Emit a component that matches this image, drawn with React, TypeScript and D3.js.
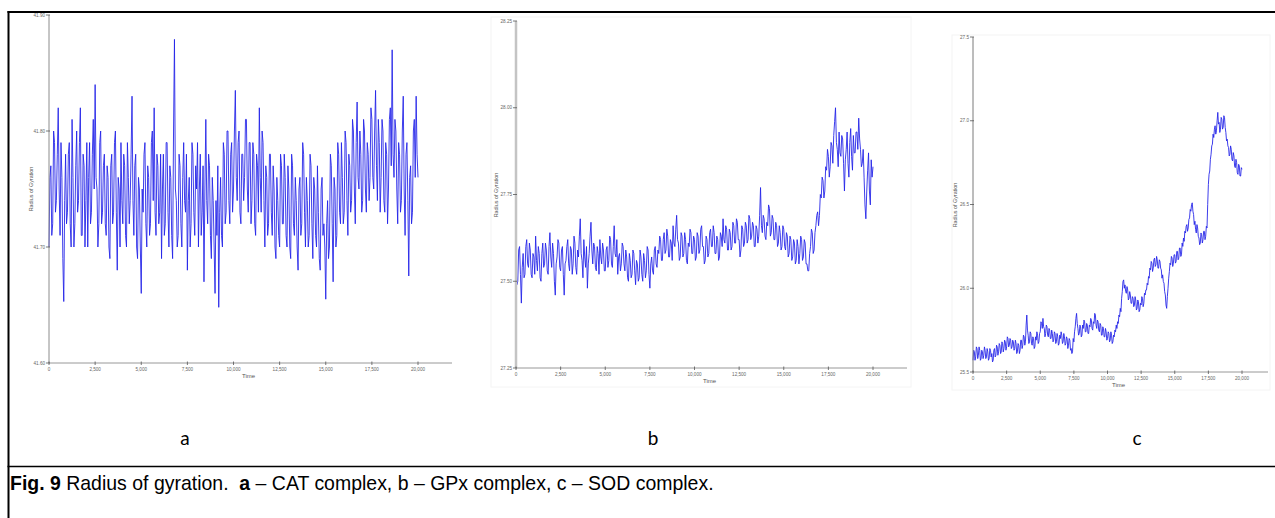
import React from "react";
import * as d3 from "d3";

// ---------- DATA ----------
const timeStep = 50; // ps between samples
const xTickValues = [0, 2500, 5000, 7500, 10000, 12500, 15000, 17500, 20000];

const catTicks = [41.6, 41.7, 41.8, 41.9];
const catRg = [
  41.70, 41.76, 41.77, 41.71, 41.72, 41.80, 41.79, 41.73, 41.74, 41.78, 41.82, 41.75, 41.71, 41.79, 41.76, 41.69, 41.653, 41.74, 41.78, 41.72,
  41.73, 41.78, 41.79, 41.72, 41.70, 41.81, 41.76, 41.70, 41.72, 41.77, 41.80, 41.73, 41.74, 41.79, 41.82, 41.71, 41.71, 41.78, 41.77, 41.70,
  41.74, 41.79, 41.70, 41.76, 41.79, 41.72, 41.73, 41.78, 41.81, 41.75, 41.84, 41.76, 41.75, 41.70, 41.72, 41.79, 41.80, 41.72, 41.73, 41.77,
  41.78, 41.72, 41.71, 41.77, 41.76, 41.70, 41.69, 41.77, 41.78, 41.72, 41.73, 41.79, 41.80, 41.73, 41.68, 41.76, 41.75, 41.70, 41.79, 41.74,
  41.72, 41.78, 41.77, 41.71, 41.70, 41.79, 41.76, 41.72, 41.74, 41.78, 41.83, 41.74, 41.71, 41.77, 41.78, 41.70, 41.69, 41.76, 41.75, 41.70,
  41.66, 41.75, 41.73, 41.78, 41.79, 41.72, 41.70, 41.77, 41.76, 41.71, 41.72, 41.79, 41.80, 41.74, 41.82, 41.73, 41.71, 41.78, 41.77, 41.72,
  41.73, 41.78, 41.69, 41.75, 41.78, 41.71, 41.72, 41.79, 41.79, 41.73, 41.70, 41.77, 41.76, 41.71, 41.69, 41.80, 41.879, 41.75, 41.74, 41.70,
  41.71, 41.78, 41.77, 41.72, 41.70, 41.76, 41.79, 41.74, 41.73, 41.78, 41.68, 41.74, 41.76, 41.70, 41.72, 41.79, 41.78, 41.73, 41.71, 41.77,
  41.75, 41.79, 41.70, 41.75, 41.78, 41.71, 41.73, 41.77, 41.67, 41.75, 41.81, 41.74, 41.72, 41.78, 41.77, 41.71, 41.69, 41.76, 41.74, 41.70,
  41.66, 41.74, 41.71, 41.77, 41.648, 41.73, 41.76, 41.71, 41.70, 41.79, 41.78, 41.72, 41.73, 41.80, 41.80, 41.74, 41.72, 41.78, 41.79, 41.73,
  41.75, 41.80, 41.835, 41.76, 41.74, 41.79, 41.80, 41.73, 41.72, 41.78, 41.78, 41.74, 41.76, 41.81, 41.81, 41.75, 41.73, 41.79, 41.79, 41.72,
  41.74, 41.79, 41.78, 41.72, 41.71, 41.78, 41.77, 41.73, 41.82, 41.76, 41.73, 41.80, 41.79, 41.74, 41.70, 41.77, 41.76, 41.71, 41.72, 41.78,
  41.78, 41.73, 41.71, 41.77, 41.75, 41.70, 41.69, 41.76, 41.74, 41.71, 41.70, 41.78, 41.77, 41.72, 41.72, 41.78, 41.76, 41.71, 41.70, 41.77,
  41.75, 41.70, 41.69, 41.78, 41.77, 41.72, 41.71, 41.76, 41.74, 41.70, 41.68, 41.75, 41.76, 41.71, 41.72, 41.79, 41.78, 41.73, 41.70, 41.76,
  41.74, 41.70, 41.71, 41.78, 41.77, 41.72, 41.69, 41.76, 41.75, 41.71, 41.70, 41.77, 41.73, 41.69, 41.68, 41.75, 41.76, 41.71, 41.72, 41.70,
  41.655, 41.72, 41.74, 41.69, 41.70, 41.78, 41.77, 41.72, 41.67, 41.76, 41.75, 41.70, 41.71, 41.79, 41.78, 41.73, 41.72, 41.79, 41.76, 41.72,
  41.73, 41.80, 41.79, 41.74, 41.71, 41.78, 41.77, 41.73, 41.74, 41.81, 41.80, 41.75, 41.72, 41.79, 41.825, 41.76, 41.75, 41.80, 41.78, 41.73,
  41.74, 41.81, 41.80, 41.75, 41.73, 41.79, 41.78, 41.74, 41.76, 41.82, 41.81, 41.76, 41.75, 41.80, 41.835, 41.77, 41.74, 41.81, 41.79, 41.73,
  41.76, 41.81, 41.80, 41.74, 41.73, 41.79, 41.78, 41.72, 41.75, 41.81, 41.82, 41.77, 41.87, 41.78, 41.76, 41.81, 41.80, 41.75, 41.72, 41.79,
  41.78, 41.73, 41.74, 41.80, 41.83, 41.75, 41.71, 41.78, 41.79, 41.74, 41.675, 41.76, 41.77, 41.72, 41.73, 41.80, 41.81, 41.76, 41.83, 41.78,
  41.76,
];

const gpxTicks = [27.25, 27.5, 27.75, 28.0, 28.25];
const gpxRg = [
  27.55, 27.49, 27.50, 27.59, 27.60, 27.52, 27.437, 27.54, 27.58, 27.51, 27.52, 27.60, 27.62, 27.55, 27.54, 27.61, 27.59, 27.52, 27.51, 27.58,
  27.57, 27.52, 27.63, 27.56, 27.53, 27.60, 27.58, 27.51, 27.50, 27.58, 27.61, 27.54, 27.55, 27.61, 27.59, 27.53, 27.52, 27.60, 27.64, 27.57,
  27.54, 27.61, 27.58, 27.50, 27.46, 27.55, 27.57, 27.62, 27.61, 27.54, 27.53, 27.59, 27.60, 27.52, 27.46, 27.55, 27.56, 27.60, 27.62, 27.55,
  27.53, 27.60, 27.59, 27.52, 27.55, 27.63, 27.61, 27.54, 27.52, 27.59, 27.57, 27.63, 27.68, 27.58, 27.56, 27.51, 27.62, 27.57, 27.54, 27.60,
  27.48, 27.55, 27.58, 27.63, 27.67, 27.59, 27.55, 27.61, 27.60, 27.54, 27.53, 27.60, 27.58, 27.52, 27.62, 27.57, 27.55, 27.61, 27.59, 27.53,
  27.53, 27.59, 27.60, 27.54, 27.56, 27.63, 27.62, 27.55, 27.54, 27.60, 27.66, 27.58, 27.57, 27.62, 27.52, 27.57, 27.58, 27.53, 27.55, 27.61,
  27.60, 27.55, 27.53, 27.59, 27.57, 27.51, 27.50, 27.58, 27.56, 27.51, 27.52, 27.59, 27.58, 27.53, 27.49, 27.56, 27.55, 27.50, 27.51, 27.59,
  27.57, 27.52, 27.50, 27.58, 27.56, 27.51, 27.53, 27.60, 27.59, 27.52, 27.48, 27.55, 27.57, 27.53, 27.52, 27.59, 27.60, 27.55, 27.54, 27.59,
  27.58, 27.63, 27.62, 27.56, 27.56, 27.62, 27.64, 27.58, 27.59, 27.65, 27.63, 27.57, 27.57, 27.62, 27.61, 27.56, 27.66, 27.61, 27.60, 27.65,
  27.69, 27.62, 27.61, 27.56, 27.57, 27.64, 27.63, 27.57, 27.58, 27.64, 27.62, 27.56, 27.55, 27.61, 27.60, 27.65, 27.64, 27.58, 27.58, 27.63,
  27.62, 27.56, 27.57, 27.64, 27.63, 27.58, 27.59, 27.65, 27.66, 27.60, 27.60, 27.55, 27.56, 27.63, 27.62, 27.57, 27.58, 27.64, 27.65, 27.60,
  27.60, 27.66, 27.64, 27.58, 27.58, 27.63, 27.62, 27.56, 27.57, 27.64, 27.63, 27.60, 27.68, 27.62, 27.61, 27.66, 27.65, 27.59, 27.59, 27.65,
  27.64, 27.59, 27.60, 27.67, 27.66, 27.61, 27.61, 27.68, 27.67, 27.62, 27.62, 27.57, 27.59, 27.66, 27.65, 27.60, 27.61, 27.67, 27.66, 27.61,
  27.62, 27.69, 27.68, 27.62, 27.63, 27.67, 27.66, 27.60, 27.60, 27.66, 27.65, 27.61, 27.63, 27.69, 27.77, 27.66, 27.64, 27.69, 27.68, 27.63,
  27.62, 27.67, 27.66, 27.72, 27.71, 27.63, 27.64, 27.69, 27.68, 27.62, 27.62, 27.67, 27.66, 27.60, 27.61, 27.66, 27.64, 27.59, 27.60, 27.66,
  27.65, 27.60, 27.59, 27.64, 27.63, 27.57, 27.58, 27.63, 27.62, 27.56, 27.57, 27.62, 27.61, 27.55, 27.56, 27.62, 27.60, 27.55, 27.58, 27.63,
  27.62, 27.56, 27.57, 27.62, 27.61, 27.55, 27.55, 27.53, 27.53, 27.58, 27.60, 27.65, 27.64, 27.58, 27.59, 27.64, 27.66, 27.69, 27.70, 27.66,
  27.69, 27.75, 27.74, 27.80, 27.79, 27.74, 27.76, 27.83, 27.82, 27.88, 27.86, 27.80, 27.83, 27.90, 27.89, 27.84, 27.92, 27.96, 28.00, 27.90,
  27.88, 27.83, 27.93, 27.87, 27.86, 27.92, 27.91, 27.84, 27.76, 27.85, 27.88, 27.93, 27.84, 27.80, 27.90, 27.94, 27.86, 27.82, 27.92, 27.87,
  27.87, 27.93, 27.93, 27.88, 27.97, 27.91, 27.88, 27.83, 27.84, 27.88, 27.80, 27.72, 27.68, 27.76, 27.82, 27.87, 27.76, 27.72, 27.85, 27.80,
  27.83,
];

const sodTicks = [25.5, 26.0, 26.5, 27.0, 27.5];
const sodRg = [
  25.57, 25.63, 25.62, 25.57, 25.59, 25.65, 25.64, 25.58, 25.60, 25.65, 25.63, 25.57, 25.58, 25.63, 25.62, 25.58, 25.60, 25.65, 25.63, 25.58,
  25.59, 25.64, 25.62, 25.57, 25.58, 25.64, 25.63, 25.59, 25.61, 25.56, 25.57, 25.63, 25.64, 25.59, 25.60, 25.66, 25.65, 25.60, 25.62, 25.67,
  25.66, 25.61, 25.62, 25.68, 25.67, 25.62, 25.64, 25.69, 25.68, 25.63, 25.65, 25.71, 25.70, 25.65, 25.66, 25.70, 25.69, 25.64, 25.65, 25.69,
  25.68, 25.63, 25.64, 25.69, 25.67, 25.61, 25.62, 25.67, 25.66, 25.61, 25.63, 25.69, 25.69, 25.64, 25.66, 25.72, 25.71, 25.66, 25.68, 25.78,
  25.84, 25.75, 25.72, 25.67, 25.68, 25.74, 25.73, 25.67, 25.66, 25.71, 25.70, 25.64, 25.65, 25.71, 25.69, 25.74, 25.72, 25.67, 25.68, 25.73,
  25.74, 25.80, 25.79, 25.76, 25.82, 25.77, 25.76, 25.71, 25.73, 25.78, 25.77, 25.72, 25.71, 25.76, 25.75, 25.70, 25.70, 25.75, 25.73, 25.68,
  25.69, 25.74, 25.73, 25.67, 25.68, 25.73, 25.71, 25.66, 25.67, 25.72, 25.70, 25.74, 25.72, 25.67, 25.68, 25.73, 25.71, 25.66, 25.67, 25.71,
  25.70, 25.64, 25.66, 25.70, 25.69, 25.63, 25.64, 25.61, 25.62, 25.70, 25.68, 25.74, 25.77, 25.82, 25.85, 25.79, 25.76, 25.72, 25.73, 25.78,
  25.77, 25.71, 25.72, 25.78, 25.76, 25.81, 25.80, 25.74, 25.74, 25.79, 25.78, 25.73, 25.73, 25.78, 25.77, 25.82, 25.81, 25.76, 25.75, 25.80,
  25.79, 25.85, 25.84, 25.78, 25.76, 25.81, 25.80, 25.75, 25.74, 25.79, 25.78, 25.72, 25.72, 25.77, 25.76, 25.71, 25.71, 25.76, 25.74, 25.69,
  25.70, 25.74, 25.73, 25.68, 25.69, 25.74, 25.72, 25.67, 25.68, 25.72, 25.71, 25.75, 25.74, 25.78, 25.76, 25.80, 25.79, 25.84, 25.83, 25.88,
  25.86, 25.94, 25.98, 26.04, 26.05, 26.00, 26.02, 25.98, 25.97, 26.01, 25.99, 25.93, 25.94, 25.98, 25.96, 25.91, 25.91, 25.95, 25.94, 25.89,
  25.90, 25.95, 25.93, 25.87, 25.88, 25.93, 25.92, 25.86, 25.87, 25.91, 25.90, 25.95, 25.94, 25.89, 25.91, 25.97, 25.96, 25.99, 25.99, 26.03,
  26.02, 26.07, 26.06, 26.12, 26.11, 26.16, 26.15, 26.10, 26.12, 26.17, 26.18, 26.13, 26.14, 26.19, 26.17, 26.12, 26.12, 26.17, 26.16, 26.12,
  26.11, 26.06, 26.08, 26.04, 26.03, 25.98, 25.96, 25.90, 25.88, 25.95, 26.00, 26.06, 26.10, 26.15, 26.14, 26.19, 26.18, 26.13, 26.15, 26.20,
  26.20, 26.15, 26.16, 26.22, 26.22, 26.17, 26.18, 26.24, 26.24, 26.19, 26.20, 26.27, 26.25, 26.30, 26.28, 26.34, 26.33, 26.37, 26.38, 26.34,
  26.36, 26.41, 26.42, 26.47, 26.46, 26.50, 26.51, 26.46, 26.44, 26.38, 26.40, 26.35, 26.33, 26.38, 26.36, 26.31, 26.30, 26.26, 26.27, 26.33,
  26.32, 26.27, 26.29, 26.34, 26.34, 26.29, 26.31, 26.37, 26.36, 26.50, 26.62, 26.68, 26.70, 26.77, 26.80, 26.85, 26.86, 26.92, 26.90, 26.95,
  26.97, 26.92, 26.94, 27.00, 27.05, 26.98, 26.99, 26.93, 26.95, 27.02, 27.01, 26.95, 26.96, 27.03, 27.02, 26.96, 26.93, 26.88, 26.89, 26.85,
  26.84, 26.79, 26.80, 26.85, 26.83, 26.77, 26.76, 26.81, 26.79, 26.73, 26.72, 26.77, 26.75, 26.69, 26.68, 26.74, 26.73, 26.67, 26.67, 26.72,
  26.71,
];

const panelLetters = ["a", "b", "c"];
const captionParts = [
  { text: "Fig. 9", bold: true },
  { text: " Radius of gyration.  ", bold: false },
  { text: "a", bold: true },
  { text: " – CAT complex, b – GPx complex, c – SOD complex.", bold: false },
];

// ---------- LAYOUT ----------
type PanelSpec = {
  values: number[];
  yTicks: number[];
  yFormat: string;
  x0: number; x20k: number; xEnd: number;
  yTop: number; yBottom: number;
  yAxisColor: string; yAxisWidth: number;
  yLabelX: number; yLabelY: number;
  frame?: [number, number, number, number];
};

const panels: PanelSpec[] = [
  {
    values: catRg, yTicks: catTicks, yFormat: ".2f",
    x0: 49, x20k: 418, xEnd: 452, yTop: 15, yBottom: 363,
    yAxisColor: "#8c8c8c", yAxisWidth: 1, yLabelX: 33, yLabelY: 189,
  },
  {
    values: gpxRg, yTicks: gpxTicks, yFormat: ".2f",
    x0: 516, x20k: 873, xEnd: 907, yTop: 21, yBottom: 368,
    yAxisColor: "#c4c4c4", yAxisWidth: 2.5, yLabelX: 498, yLabelY: 195,
    frame: [491, 17, 911, 387],
  },
  {
    values: sodRg, yTicks: sodTicks, yFormat: ".1f",
    x0: 973, x20k: 1242, xEnd: 1268, yTop: 37, yBottom: 372,
    yAxisColor: "#7a7a7a", yAxisWidth: 1, yLabelX: 957, yLabelY: 205,
    frame: [952, 35, 1270, 390],
  },
];

const letterX = [185, 653, 1137];

function Panel({ p }: { p: PanelSpec }) {
  const x = d3.scaleLinear().domain([0, 20000]).range([p.x0, p.x20k]);
  const y = d3
    .scaleLinear()
    .domain([p.yTicks[0], p.yTicks[p.yTicks.length - 1]])
    .range([p.yBottom, p.yTop]);
  const line = d3
    .line<number>()
    .x((_, i) => x(i * timeStep))
    .y((d) => y(d));
  const fy = d3.format(p.yFormat);
  const fx = d3.format(",");
  const tickFont = "Liberation Sans, Arial, sans-serif";
  return (
    <g>
      {p.frame && (
        <rect
          x={p.frame[0]} y={p.frame[1]}
          width={p.frame[2] - p.frame[0]} height={p.frame[3] - p.frame[1]}
          fill="none" stroke="#f4f4f4" strokeWidth={1}
        />
      )}
      <path d={line(p.values) || ""} fill="none" stroke="#2222e8" strokeWidth={0.95} strokeOpacity={0.92} />
      {/* y axis */}
      <line x1={p.x0} x2={p.x0} y1={p.yTop} y2={p.yBottom} stroke={p.yAxisColor} strokeWidth={p.yAxisWidth} />
      {p.yTicks.map((t) => (
        <g key={t}>
          <line x1={p.x0 - 3} x2={p.x0 + 1} y1={y(t)} y2={y(t)} stroke="#555" strokeWidth={0.8} />
          <text x={p.x0 - 4} y={y(t) + 1.6} fontSize={4.6} fill="#666" textAnchor="end" fontFamily={tickFont}>
            {fy(t)}
          </text>
        </g>
      ))}
      {/* x axis */}
      <line x1={p.x0} x2={p.xEnd} y1={p.yBottom} y2={p.yBottom} stroke="#8c8c8c" strokeWidth={0.9} />
      {xTickValues.map((t) => (
        <g key={t}>
          <line x1={x(t)} x2={x(t)} y1={p.yBottom - 1.5} y2={p.yBottom + 2} stroke="#555" strokeWidth={0.8} />
          <text x={x(t)} y={p.yBottom + 8} fontSize={4.6} fill="#666" textAnchor="middle" fontFamily={tickFont}>
            {fx(t)}
          </text>
        </g>
      ))}
      <text
        x={(p.x0 + p.xEnd) / 2 - 2}
        y={p.yBottom + 15}
        fontSize={6}
        fill="#555"
        textAnchor="middle"
        fontFamily={tickFont}
      >
        Time
      </text>
      <text
        transform={`translate(${p.yLabelX},${p.yLabelY}) rotate(-90)`}
        fontSize={5.4}
        fill="#555"
        textAnchor="middle"
        fontFamily={tickFont}
      >
        Radius of Gyration
      </text>
    </g>
  );
}

export default function App() {
  return (
    <svg
      width={1275}
      height={518}
      style={{ position: "absolute", left: 0, top: 0, background: "#fff" }}
    >
      <rect x={0} y={0} width={1275} height={518} fill="#fff" />
      {panels.map((p, i) => (
        <Panel key={i} p={p} />
      ))}
      {/* table borders */}
      <line x1={8.5} x2={8.5} y1={11} y2={518} stroke="#000" strokeWidth={2} />
      <line x1={7.5} x2={1275} y1={12} y2={12} stroke="#000" strokeWidth={2} />
      <line x1={7.5} x2={1275} y1={466.5} y2={466.5} stroke="#000" strokeWidth={1.5} />
      {panelLetters.map((l, i) => (
        <text key={l} x={letterX[i]} y={445} fontSize={19} fontFamily="Lato, 'Open Sans', sans-serif" textAnchor="middle" fill="#000">
          {l}
        </text>
      ))}
      <text
        transform="translate(10,490) scale(0.95,1)"
        fontSize={20.5}
        fontFamily="'Liberation Sans', Arial, sans-serif"
        fill="#000"
        style={{ whiteSpace: "pre" }}
      >
        {captionParts.map((c, i) => (
          <tspan key={i} fontWeight={c.bold ? "bold" : "normal"}>
            {c.text}
          </tspan>
        ))}
      </text>
    </svg>
  );
}
